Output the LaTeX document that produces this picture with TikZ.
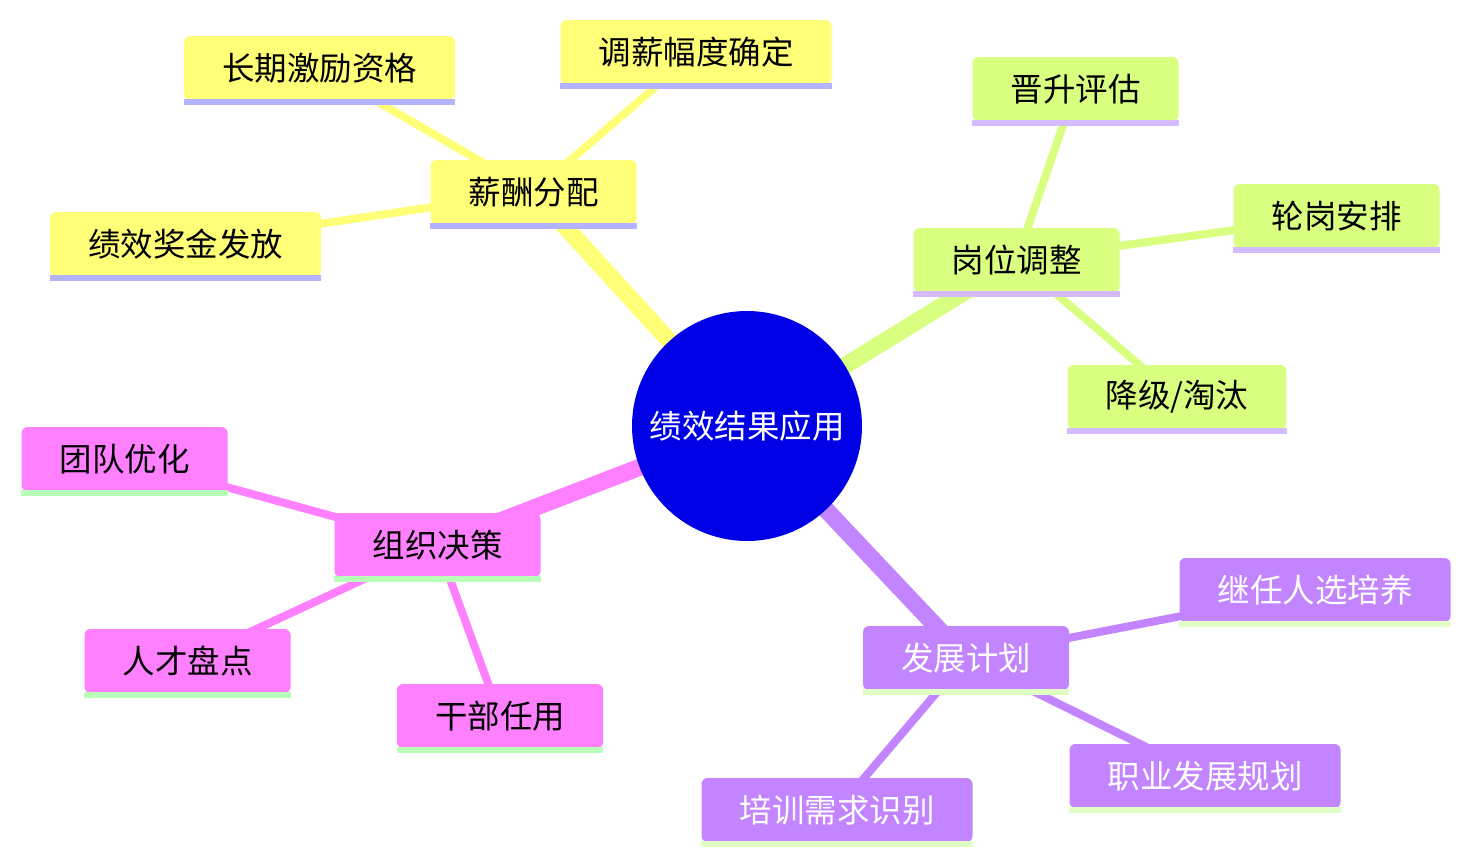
\documentclass[tikz,border=0pt]{standalone}
\usepackage{fontspec}
\newfontfamily\cjk{Noto Sans CJK SC}
\usetikzlibrary{backgrounds}
\definecolor{cyel}{HTML}{FFFF78}
\definecolor{cyelu}{HTML}{B3B3FF}
\definecolor{cgrn}{HTML}{D9FF80}
\definecolor{cgrnu}{HTML}{D4BBFF}
\definecolor{cpnk}{HTML}{FF80FF}
\definecolor{cpnku}{HTML}{B8FFB8}
\definecolor{cpur}{HTML}{C285FF}
\definecolor{cpuru}{HTML}{E0FFC4}
\definecolor{croot}{HTML}{0000E6}
\tikzset{
  mmbox/.style={rounded corners=6pt, inner xsep=38pt, inner ysep=0pt, minimum height=64pt,
    font=\cjk\fontsize{32.5}{32.5}\selectfont, text=black},
  secY/.style={mmbox, fill=cyel},
  secG/.style={mmbox, fill=cgrn},
  secP/.style={mmbox, fill=cpnk},
  secV/.style={mmbox, fill=cpur, text=white},
  rootnode/.style={circle, fill=croot, minimum size=230pt, inner sep=0pt, text=white,
    font=\cjk\fontsize{32.5}{32.5}\selectfont},
  thick edge/.style={line width=17pt},
  thin edge/.style={line width=8pt},
}
\newcommand{\uline}[2]{\fill[#2] ([yshift=1pt]#1.south west) rectangle ([yshift=-5pt]#1.south east);}
\begin{document}
\begin{tikzpicture}[x=1pt,y=-1pt]
\useasboundingbox (0,0) rectangle (1470,865);
\node[rootnode] (root) at (747,426) {绩效结果应用};
% section 1
\node[secY] (s1) at (533.5,192) {薪酬分配};
\node[secY] (l11) at (319.5,68) {长期激励资格};
\node[secY] (l12) at (696,52) {调薪幅度确定};
\node[secY] (l13) at (185.5,244) {绩效奖金发放};
% section 2
\node[secG] (s2) at (1016.5,260) {岗位调整};
\node[secG] (l21) at (1075.5,89) {晋升评估};
\node[secG] (l22) at (1336.5,216) {轮岗安排};
\node[secG] (l23) at (1177,397) {降级/淘汰};
% section 3
\node[secP] (s3) at (437.5,545) {组织决策};
\node[secP] (l31) at (124.5,459) {团队优化};
\node[secP] (l32) at (187.5,661) {人才盘点};
\node[secP] (l33) at (500,716) {干部任用};
% section 4
\node[secV] (s4) at (966,658) {发展计划};
\node[secV] (l41) at (1315,590) {继任人选培养};
\node[secV] (l42) at (1205,776) {职业发展规划};
\node[secV] (l43) at (837,810) {培训需求识别};
% underlines
\uline{s1}{cyelu}\uline{l11}{cyelu}\uline{l12}{cyelu}\uline{l13}{cyelu}
\uline{s2}{cgrnu}\uline{l21}{cgrnu}\uline{l22}{cgrnu}\uline{l23}{cgrnu}
\uline{s3}{cpnku}\uline{l31}{cpnku}\uline{l32}{cpnku}\uline{l33}{cpnku}
\uline{s4}{cpuru}\uline{l41}{cpuru}\uline{l42}{cpuru}\uline{l43}{cpuru}
\begin{scope}[on background layer]
\draw[thick edge, cyel] (root.center) -- (s1.center);
\draw[thin edge, cyel] (s1.center) -- (l11.center);
\draw[thin edge, cyel] (s1.center) -- (l12.center);
\draw[thin edge, cyel] (s1.center) -- (l13.center);
\draw[thick edge, cgrn] (root.center) -- (s2.center);
\draw[thin edge, cgrn] (s2.center) -- (l21.center);
\draw[thin edge, cgrn] (s2.center) -- (l22.center);
\draw[thin edge, cgrn] (s2.center) -- (l23.center);
\draw[thick edge, cpnk] (root.center) -- (s3.center);
\draw[thin edge, cpnk] (s3.center) -- (l31.center);
\draw[thin edge, cpnk] (s3.center) -- (l32.center);
\draw[thin edge, cpnk] (s3.center) -- (l33.center);
\draw[thick edge, cpur] (root.center) -- (s4.center);
\draw[thin edge, cpur] (s4.center) -- (l41.center);
\draw[thin edge, cpur] (s4.center) -- (l42.center);
\draw[thin edge, cpur] (s4.center) -- (l43.center);
\end{scope}
\end{tikzpicture}
\end{document}
